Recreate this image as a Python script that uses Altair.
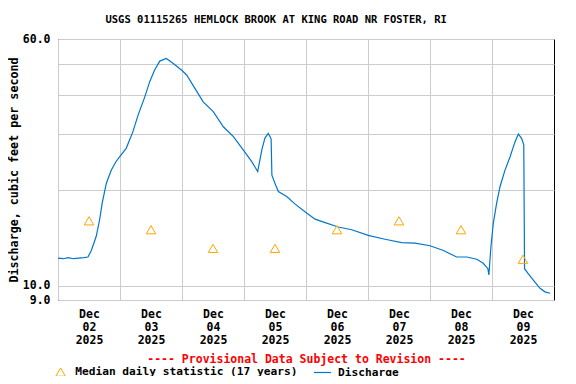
import altair as alt
import pandas as pd

# Discharge trace (hours after 2025-12-02 00:00 UTC, cubic feet per second)
hours = [0, 2, 4, 6, 8, 10, 11.6, 12.9, 14.8, 16.1, 17.1, 18.7, 20.6, 22.3, 23.9,
         26.4, 29.0, 31.0, 33.6, 35.5, 37.4, 39.4, 41.9, 44.5, 47.9, 49.8, 53.0,
         56.2, 60.1, 64.0, 67.9, 71.7, 75.0, 77.3, 78.9, 80.1, 81.4, 82.1, 82.5,
         82.8, 84.0, 85.3, 88.5, 91.7, 95.6, 99.5, 103.4, 108.5, 113.7, 120.1,
         126.6, 133.0, 138.2, 144.0, 149.2, 154.3, 158.2, 162.1, 164.6, 166.4,
         166.8, 167.6, 168.5, 169.8, 171.1, 173.0, 175.0, 176.9, 178.2, 179.5,
         180.3, 180.6, 182.0, 184.0, 186.6, 188.5, 190.5]
discharge = [12.2, 12.15, 12.25, 12.15, 12.2, 12.25, 12.3, 12.9, 14.3, 16.1, 18.2,
             21.0, 23.1, 24.5, 25.5, 27.1, 30.6, 34.5, 39.4, 44.0, 47.9, 51.1, 52.1,
             50.3, 47.8, 46.2, 41.9, 38.0, 35.4, 31.7, 29.5, 26.8, 24.6, 22.9, 26.8,
             29.2, 30.2, 29.5, 29.0, 22.3, 21.0, 19.8, 19.1, 18.1, 17.1, 16.2, 15.8,
             15.3, 15.0, 14.4, 14.0, 13.65, 13.6, 13.35, 12.9, 12.3, 12.3, 12.1,
             11.75, 11.3, 10.8, 13.3, 15.7, 18.2, 20.5, 23.1, 25.5, 28.4, 30.1, 29.1,
             27.8, 11.3, 10.9, 10.4, 9.8, 9.55, 9.45]

# Median daily statistic (17 years), plotted at noon of each day
median_days = ["2025-12-02", "2025-12-03", "2025-12-04", "2025-12-05",
               "2025-12-06", "2025-12-07", "2025-12-08", "2025-12-09"]
median_values = [16.0, 15.0, 13.1, 13.1, 15.0, 16.0, 15.0, 12.1]

median_name = "Median daily statistic (17 years)"
flow_name = "Discharge"
median_color = "#FFA500"
flow_color = "#0077CC"
y_ticks = [9, 10, 20, 30, 40, 50, 60]
x_tick_days = [2, 3, 4, 5, 6, 7, 8, 9]

start = pd.Timestamp("2025-12-02T00:00:00")
flow = pd.DataFrame({
    "time": [(start + pd.Timedelta(hours=h)).strftime("%Y-%m-%dT%H:%M:%SZ") for h in hours],
    "value": discharge,
    "flow_series": flow_name,
})
med = pd.DataFrame({
    "time": [d + "T12:00:00Z" for d in median_days],
    "value": median_values,
    "median_series": median_name,
})

FONT = "DejaVu Sans Mono"

x_enc = alt.X(
    "time:T",
    scale=alt.Scale(type="utc",
                    domain=[alt.DateTime(year=2025, month=12, date=2, utc=True),
                            alt.DateTime(year=2025, month=12, date=10, utc=True)]),
    axis=alt.Axis(
        values=[alt.DateTime(year=2025, month=12, date=d, utc=True) for d in x_tick_days],
        labelExpr="[utcFormat(datum.value, '%b'), utcFormat(datum.value, '%d'), utcFormat(datum.value, '%Y')]",
        labelOffset=31,
        labelFlush=False,
        labelOverlap=False,
        labelBound=False,
        labelLineHeight=13,
        labelPadding=8,
        ticks=False,
        domain=False,
        grid=True,
        title="---- Provisional Data Subject to Revision ----",
        titleColor="#FF0000",
        titlePadding=8,
    ),
)
y_enc = alt.Y(
    "value:Q",
    scale=alt.Scale(type="log", domain=[9, 60], nice=False),
    axis=alt.Axis(
        values=y_ticks,
        labelExpr="(datum.value == 9 || datum.value == 10 || datum.value == 60) ? format(datum.value, '.1f') : ''",
        ticks=False,
        domain=False,
        grid=True,
        labelPadding=8,
        title="Discharge, cubic feet per second",
        titleFontSize=11.7,
        titlePadding=3,
    ),
)

line = alt.Chart(flow).mark_line(strokeWidth=1.2, interpolate="linear").encode(
    x=x_enc,
    y=y_enc,
    color=alt.Color(
        "flow_series:N",
        scale=alt.Scale(domain=[flow_name], range=[flow_color]),
        legend=alt.Legend(orient="none", legendX=255, legendY=324, title=None,
                          labelLimit=0, symbolType="stroke", symbolSize=289,
                          symbolStrokeWidth=1.2, labelOffset=6),
    ),
)

points = alt.Chart(med).mark_point(filled=False, strokeWidth=1, opacity=1, size=90,
                                   color=median_color).encode(
    x=x_enc,
    y=y_enc,
    shape=alt.Shape(
        "median_series:N",
        scale=alt.Scale(domain=[median_name], range=["triangle-up"]),
        legend=alt.Legend(orient="none", legendX=-3, legendY=327.5, title=None,
                          labelLimit=0, symbolSize=90, symbolStrokeColor=median_color,
                          symbolFillColor="transparent", symbolStrokeWidth=1,
                          labelOffset=9),
    ),
)

chart = alt.layer(line, points).properties(
    width=496,
    height=261,
    autosize=alt.AutoSizeParams(type="none"),
    padding={"left": 50, "top": 31, "right": 14, "bottom": 76},
    title=alt.TitleParams(
        "USGS 01115265 HEMLOCK BROOK AT KING ROAD NR FOSTER, RI",
        font=FONT, fontSize=10.5, fontWeight="bold", color="#000000",
        anchor="middle", frame="bounds", offset=8, dx=-5,
    ),
).configure_view(
    stroke="#000000", strokeWidth=1,
).configure_axis(
    labelFont=FONT, labelFontSize=11.5, labelFontWeight="bold", labelColor="#000000",
    titleFont=FONT, titleFontSize=11.5, titleFontWeight="bold", titleColor="#000000",
    gridColor="#CCCCCC", gridWidth=1, gridOpacity=1,
).configure_legend(
    labelFont=FONT, labelFontSize=11.2, labelFontWeight="bold", labelColor="#000000",
)

chart.save("out.html", embed_options={"renderer": "svg", "actions": False})
